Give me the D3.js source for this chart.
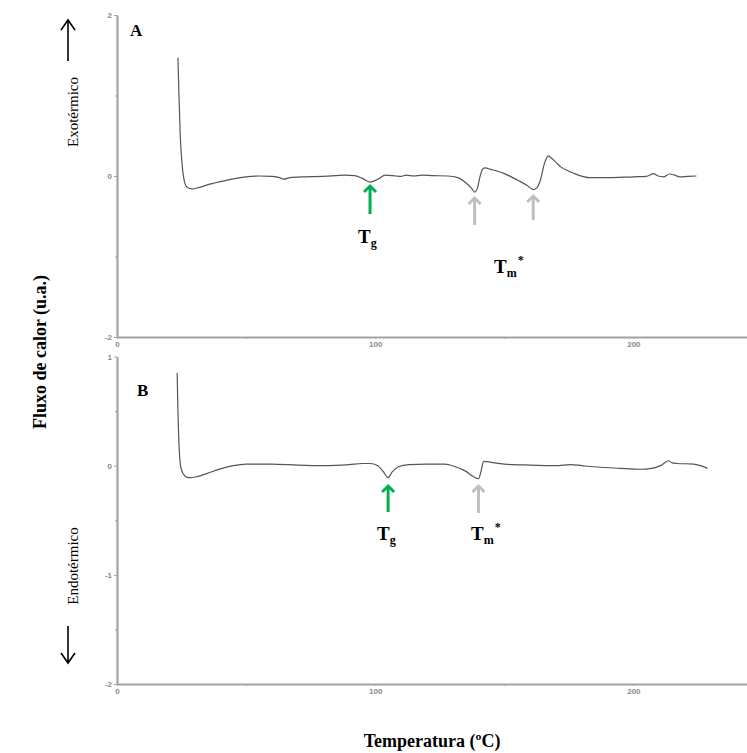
<!DOCTYPE html>
<html>
<head>
<meta charset="utf-8">
<script src="https://cdn.jsdelivr.net/npm/d3@7"></script>
<style>
	body { margin: 0; background: #fff; }
	.axis path, .axis line { stroke: #a3a3a3; }
	.axis text { fill: #8a8a8a; font-family: "Liberation Sans", Arial, sans-serif; font-size: 8px; font-weight: bold; }
	.serif { font-family: "Liberation Serif", "Times New Roman", serif; }
</style>
</head>
<body>
<div id="graph"></div>
<script>
// curve A (temperatura ºC / fluxo)
const tempA = [23.6, 24.0, 24.5, 25.2, 26.0, 27.2, 29.0, 31.5, 35, 40, 45, 50, 55, 60, 63, 64.5, 67, 72, 80, 88, 92, 95, 98, 101, 104, 108, 110, 112, 115, 118, 122, 128, 132, 135, 137.5, 138.5, 139.5, 140.5, 141.5, 142.5, 145, 150, 155, 159, 161.2, 162.5, 164, 165.5, 167, 168, 170, 172, 175, 178, 183, 190, 200, 205, 207.8, 209.5, 211.6, 214, 216, 218, 221, 224.4];
const fluxA = [1.47, 1.0, 0.5, 0.15, -0.05, -0.14, -0.16, -0.145, -0.11, -0.07, -0.035, -0.01, 0.0, -0.005, -0.02, -0.04, -0.02, -0.01, -0.005, 0.01, 0.005, -0.03, -0.075, -0.04, 0.01, 0.0, -0.005, 0.01, 0.0, 0.01, 0.005, 0.0, -0.02, -0.08, -0.16, -0.2, -0.16, -0.02, 0.08, 0.1, 0.08, 0.03, -0.05, -0.12, -0.17, -0.15, -0.05, 0.15, 0.25, 0.23, 0.17, 0.11, 0.06, 0.02, -0.02, -0.02, -0.01, -0.005, 0.03, 0.0, -0.01, 0.025, 0.01, -0.01, -0.005, 0.0];

// curve B
const tempB = [23.3, 23.6, 24.0, 24.6, 25.5, 27, 28.3, 31, 35, 40, 45, 50, 60, 70, 80, 90, 95, 98, 101, 103, 105, 106.5, 109, 113, 120, 127, 131, 135, 138, 140, 141, 142, 145, 150, 160, 170, 175.6, 180, 184.5, 195, 202.7, 207, 210.5, 213.6, 215, 217, 223.3, 226, 228.7];
const fluxB = [0.85, 0.5, 0.2, 0.0, -0.07, -0.105, -0.11, -0.1, -0.07, -0.03, 0.0, 0.015, 0.015, 0.005, 0.0, 0.01, 0.02, 0.02, 0.0, -0.05, -0.11, -0.06, -0.01, 0.01, 0.015, 0.015, -0.01, -0.05, -0.1, -0.12, -0.05, 0.04, 0.03, 0.015, 0.005, 0.0, 0.01, 0.0, -0.01, -0.025, -0.033, -0.025, 0.0, 0.045, 0.025, 0.02, 0.015, 0.0, -0.025];

const xTicks = [0, 100, 200];
const xMinor = [50, 150];
const yTicksA = [-2, 0, 2];
const yMinorA = [-1, 1];
const yTicksB = [-2, -1, 0, 1];
const yMinorB = [-1.5, -0.5, 0.5];

// arrows: temperature of each marked event
const tgA = 98, tmA = [138.5, 161.2];
const tgB = 105, tmB = [140];

const W = 747, H = 753;
const left = 117;

var svg = d3.select("#graph")
	.append("svg")
	.attr("width", W)
	.attr("height", H);

const xScale = d3.scaleLinear().domain([0, 244]).range([left, 747]);
const yA = d3.scaleLinear().domain([-2, 2]).range([337, 15]);
const yB = d3.scaleLinear().domain([-2, 1]).range([684, 356.5]);

const fmt = d => String(d);

function drawPanel(yScale, yTicks, yMinor, temps, fluxes) {
	let g = svg.append("g");

	g.append("g")
		.attr("class", "axis")
		.attr("transform", "translate(0," + yScale.range()[0] + ")")
		.call(d3.axisBottom(xScale).tickValues(xTicks).tickFormat(fmt).tickSize(2).tickPadding(2).tickSizeOuter(0))
		.call(a => a.select(".domain").attr("stroke-width", 2.2));
	g.append("g")
		.attr("class", "axis")
		.attr("transform", "translate(0," + yScale.range()[0] + ")")
		.call(d3.axisBottom(xScale).tickValues(xMinor).tickSize(2).tickFormat(""))
		.call(a => a.select(".domain").remove());

	g.append("g")
		.attr("class", "axis")
		.attr("transform", "translate(" + left + ",0)")
		.call(d3.axisLeft(yScale).tickValues(yTicks).tickFormat(fmt).tickSize(3).tickPadding(2).tickSizeOuter(0))
		.call(a => a.select(".domain").attr("stroke-width", 2.2));
	g.append("g")
		.attr("class", "axis")
		.attr("transform", "translate(" + left + ",0)")
		.call(d3.axisLeft(yScale).tickValues(yMinor).tickSize(2).tickFormat(""))
		.call(a => a.select(".domain").remove());

	let data = temps.map((t, i) => ({t: t, v: fluxes[i]}));
	let line = d3.line()
		.x(d => xScale(d.t))
		.y(d => yScale(d.v))
		.curve(d3.curveMonotoneX);

	g.append("path")
		.datum(data)
		.attr("fill", "none")
		.attr("stroke", "#555")
		.attr("stroke-width", 1.2)
		.attr("d", line);
}

drawPanel(yA, yTicksA, yMinorA, tempA, fluxA);
drawPanel(yB, yTicksB, yMinorB, tempB, fluxB);

function arrow(x, yTip, len, color, w) {
	let a = svg.append("g")
		.attr("stroke", color)
		.attr("stroke-width", w)
		.attr("fill", "none");
	a.append("line").attr("x1", x).attr("x2", x).attr("y1", yTip + 1).attr("y2", yTip + len);
	a.append("path")
		.attr("stroke-linejoin", "miter")
		.attr("d", "M" + (x - 6) + "," + (yTip + 7) + "L" + x + "," + (yTip + 1) + "L" + (x + 6) + "," + (yTip + 7));
}

function sub(x, y, main, s, star) {
	let t = svg.append("text")
		.attr("class", "serif")
		.attr("x", x)
		.attr("y", y)
		.attr("font-weight", "bold")
		.attr("font-size", 19)
		.attr("fill", "#000");
	t.append("tspan").text(main);
	t.append("tspan").attr("font-size", 12).attr("dy", 4).text(s);
	if (star) t.append("tspan").attr("font-size", 12).attr("dy", -13).attr("dx", 1).text("*");
}

// panel A marks
arrow(xScale(tgA), 185, 29, "#00b050", 3);
tmA.forEach((t, i) => arrow(xScale(t), i == 0 ? 197 : 195, i == 0 ? 28 : 25, "#bfbfbf", 3));
sub(358, 243, "T", "g", false);
sub(494, 273, "T", "m", true);

// panel B marks
arrow(xScale(tgB), 485, 27, "#00b050", 3);
tmB.forEach(t => arrow(xScale(t), 485, 28, "#bfbfbf", 3));
sub(377, 540, "T", "g", false);
sub(471, 540, "T", "m", true);

// panel letters
svg.append("text").attr("class", "serif").attr("x", 130).attr("y", 36)
	.attr("font-weight", "bold").attr("font-size", 17).text("A");
svg.append("text").attr("class", "serif").attr("x", 137).attr("y", 396)
	.attr("font-weight", "bold").attr("font-size", 17).text("B");

// axis titles
svg.append("text").attr("class", "serif")
	.attr("transform", "translate(46,352) rotate(-90)")
	.attr("text-anchor", "middle")
	.attr("font-weight", "bold").attr("font-size", 18)
	.text("Fluxo de calor (u.a.)");
svg.append("text").attr("class", "serif")
	.attr("x", 432).attr("y", 747)
	.attr("text-anchor", "middle")
	.attr("font-weight", "bold").attr("font-size", 18)
	.text("Temperatura (ºC)");

// exo / endo hints
svg.append("text").attr("class", "serif")
	.attr("transform", "translate(78,112) rotate(-90)")
	.attr("text-anchor", "middle")
	.attr("font-size", 15)
	.text("Exotérmico");
svg.append("text").attr("class", "serif")
	.attr("transform", "translate(78,566) rotate(-90)")
	.attr("text-anchor", "middle")
	.attr("font-size", 15)
	.text("Endotérmico");

let hint = svg.append("g").attr("stroke", "#000").attr("stroke-width", 1.6).attr("fill", "none");
hint.append("line").attr("x1", 68).attr("x2", 68).attr("y1", 61).attr("y2", 21);
hint.append("path").attr("d", "M61,30L68,20L75,30");
hint.append("line").attr("x1", 68).attr("x2", 68).attr("y1", 626).attr("y2", 662);
hint.append("path").attr("d", "M61,653L68,663L75,653");
</script>
</body>
</html>
